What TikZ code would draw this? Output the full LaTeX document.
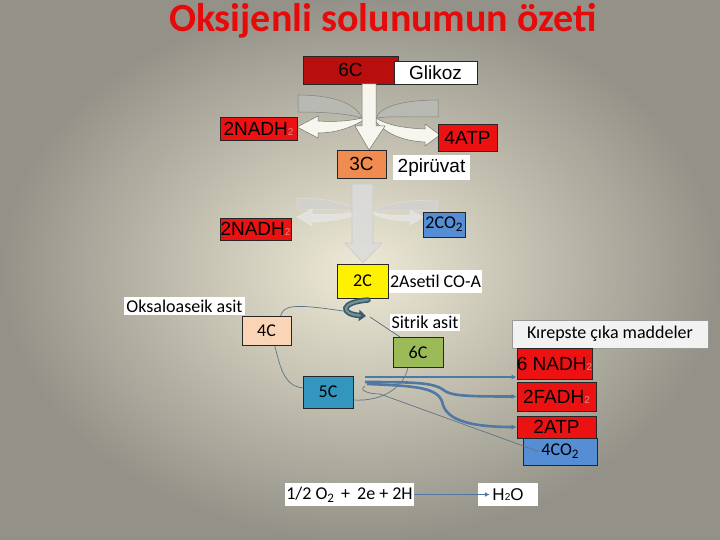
\documentclass[tikz,border=0pt]{standalone}
\usepackage{fontspec}
\setmainfont{Carlito}
\newfontfamily\arialf{Liberation Sans}
\usetikzlibrary{arrows.meta}
\definecolor{bgin}{RGB}{238,234,214}
\definecolor{bgout}{RGB}{148,146,136}
\definecolor{darkred}{RGB}{185,14,14}
\definecolor{brightred}{RGB}{236,18,18}
\definecolor{orange3}{RGB}{240,140,80}
\definecolor{blue2}{RGB}{85,142,213}
\definecolor{peach}{RGB}{250,212,182}
\definecolor{green6}{RGB}{155,187,89}
\definecolor{teal5}{RGB}{50,150,190}
\definecolor{lineblue}{RGB}{79,120,165}
\definecolor{thinline}{RGB}{95,115,135}
\definecolor{subred}{RGB}{222,140,140}
\definecolor{bandgray}{RGB}{185,185,180}
\definecolor{arrowwhite}{RGB}{246,246,238}
\definecolor{swirlout}{RGB}{60,88,112}
\definecolor{swirlin}{RGB}{110,150,140}
\definecolor{titlered}{RGB}{230,10,10}
\newcommand{\subtwo}{{\fontsize{10}{10}\selectfont\color{subred}2}}
\newcommand{\cotwo}{CO\raisebox{-3pt}{\fontsize{13}{13}\selectfont 2}}
\begin{document}
\begin{tikzpicture}[x=1pt,y=-1pt,
  box/.style={draw=black!85, line width=0.7pt, inner sep=0pt, align=center},
  afont/.style={font=\arialf\fontsize{19}{19}\selectfont},
  cfont/.style={font=\fontsize{18}{18}\selectfont},
  wlabel/.style={fill=white, inner sep=0pt},
  thick blue/.style={draw=lineblue, line width=2.6pt, -{Latex[length=5pt,width=5pt]}},
  thin conn/.style={draw=thinline, line width=0.7pt},
  band/.style={fill=bandgray, draw=black!50, line width=0.5pt},
  fat/.style={fill=arrowwhite, draw=black!55, line width=0.5pt},
  fband/.style={fill=black!18, draw=black!10, line width=0.5pt, opacity=0.7},
  ffat/.style={fill=black!10, draw=black!8, line width=0.5pt, opacity=0.8}]
\shade[inner color=bgin, outer color=bgout] (0,0) rectangle (720,540);
\useasboundingbox (0,0) rectangle (720,540);

% title
\node[font=\bfseries\fontsize{40}{40}\selectfont, text=titlered] (title) at (383,21) {Oksijenli solunumun özeti};

% first stage boxes
\node[box, fill=darkred, afont, minimum width=95pt, minimum height=28pt] (c6top) at (350.5,70) {6C};
\node[box, fill=white, afont, minimum width=83pt, minimum height=23pt] (glikoz) at (435.5,72.5) {Glikoz};

% curved arrows stage 1
\path[band] (298,95) .. controls (330,95) and (355,102) .. (362,118) .. controls (345,113) and (320,112) .. (298,112) -- cycle;
\path[band] (438,100) .. controls (405,100) and (380,106) .. (376,118) .. controls (390,116) and (415,117) .. (438,117) -- cycle;
\path[fat] (362,118) .. controls (350,121) and (335,122) .. (318,121) -- (318,116) -- (297,127) -- (318,138) -- (318,133) .. controls (335,133) and (350,128) .. (362,121) -- cycle;
\path[fat] (376,118) .. controls (385,124) and (400,128) .. (425,129) -- (425,124) -- (440,135) -- (425,146) -- (425,142) .. controls (400,141) and (385,132) .. (376,122) -- cycle;
% main vertical arrow
\path[fat] (362,84) -- (362,126) -- (355,126) -- (369,150) -- (385,126) -- (376,126) -- (376,84) -- cycle;

\node[box, fill=brightred, afont, minimum width=77pt, minimum height=23pt] (nadhA) at (258.5,128.5) {2NADH\subtwo};
\node[box, fill=brightred, afont, minimum width=59pt, minimum height=27pt] (atp4) at (467.5,137.5) {4ATP};
\node[box, fill=orange3, afont, minimum width=49pt, minimum height=28pt] (c3) at (361.5,164) {3C};
\node[wlabel, afont, minimum width=77pt, minimum height=25pt] (piruvat) at (431.5,167.5) {2pirüvat};

% faint stage 2 arrows
\path[fband] (297,198) .. controls (330,198) and (352,205) .. (358,212) .. controls (340,209) and (320,209) .. (297,210) -- cycle;
\path[fband] (437,200) .. controls (405,200) and (378,205) .. (372,212) .. controls (390,209) and (415,210) .. (437,211) -- cycle;
\path[ffat] (358,212) .. controls (345,214) and (330,215) .. (312,214) -- (312,209) -- (297,217) -- (312,226) -- (312,222) .. controls (330,222) and (348,218) .. (358,214) -- cycle;
\path[ffat] (372,212) .. controls (385,215) and (395,216) .. (410,215) -- (410,210) -- (423,217) -- (410,225) -- (410,221) .. controls (395,221) and (382,218) .. (372,214) -- cycle;
\path[fill=black!14, draw=black!22, line width=0.6pt, opacity=0.85] (352,184) -- (352,243) -- (345,243) -- (363,263) -- (382,243) -- (373,243) -- (373,184) -- cycle;

\node[box, fill=brightred, afont, minimum width=71pt, minimum height=22pt] (nadhB) at (255.5,229) {2NADH\subtwo};
\node[box, fill=blue2, cfont, minimum width=42pt, minimum height=25pt] (co2a) at (444,224.5) {2\cotwo};
\node[box, fill=yellow, cfont, minimum width=51pt, minimum height=34pt] (c2) at (362.5,281) {2C};
\node[wlabel, cfont, minimum width=93pt, minimum height=23pt] (asetil) at (435.5,281.5) {2Asetil CO-A};

% Krebs cycle
\node[wlabel, cfont, minimum width=121pt, minimum height=18pt] (oksalo) at (184.5,306) {Oksaloaseik asit};
\node[wlabel, cfont, minimum width=70pt, minimum height=17pt] (sitrik) at (425,322.5) {Sitrik asit};

\coordinate (sw1) at (343,311);
\coordinate (sw2) at (370,317);
\draw[thin conn] (280.5,316) .. controls (284,306) and (290,303) .. (sw1);
\draw[thin conn] (sw2) -- (400,337);
\draw[thin conn] (274.5,345) .. controls (280,365) and (283,386) .. (303,388);
\draw[thin conn] (353,400) .. controls (385,402) and (405,385) .. (408,367);

\node[box, fill=peach, cfont, minimum width=49pt, minimum height=29pt] (c4) at (266.5,330.5) {4C};
\node[box, fill=green6, cfont, minimum width=50pt, minimum height=30pt] (c6g) at (418,352) {6C};
\node[box, fill=teal5, cfont, minimum width=50pt, minimum height=32pt] (c5) at (328,392) {5C};

% swirl
\draw[swirlout, line width=5.5pt, line cap=round, -{Triangle[length=7pt,width=11pt]}] (368,300) .. controls (340,302) and (340,314) .. (366,316);
\draw[swirlin, line width=2.2pt, line cap=round, shorten >=6pt] (368,300) .. controls (340,302) and (340,314) .. (366,316);

% products
\node[box, draw=black!40, fill=black!5, cfont, minimum width=196pt, minimum height=28pt] (krebs) at (610,334) {Kırepste çıka maddeler};
\node[box, fill=brightred, afont, minimum width=75pt, minimum height=31pt] (nadh6) at (554.5,363.5) {6 NADH\subtwo};
\node[box, fill=brightred, afont, minimum width=79pt, minimum height=29pt] (fadh) at (556.5,396.5) {2FADH\subtwo};
\node[box, fill=brightred, afont, minimum width=79pt, minimum height=22pt] (atp2) at (556.5,427) {2ATP};
\node[box, fill=blue2, cfont, minimum width=74pt, minimum height=27pt] (co2b) at (560,451.5) {4\cotwo};

\coordinate (s1) at (365,377);
\coordinate (s2) at (365,382);
\coordinate (s3) at (367,384);
\coordinate (s4) at (365,386);
\draw[thick blue] (s1) -- (nadh6.west |- s1);
\draw[thick blue] (s2) .. controls (420,382) and (435,383) .. (445,391) .. controls (452,396) and (470,396.5) .. (fadh.west);
\draw[thick blue] (s3) .. controls (420,386) and (440,388) .. (443,405) .. controls (448,420) and (470,427) .. (atp2.west);
\draw[thin conn] (s4) .. controls (358,390) and (368,394) .. (380,394) -- ([xshift=16pt]co2b.west);

% oxygen
\node[wlabel, cfont, minimum width=129pt, minimum height=23pt] (o2) at (349.5,494.5) {1/2 O\raisebox{-3pt}{\fontsize{13}{13}\selectfont 2} \,+ \,2e + 2H};
\node[wlabel, font=\arialf\fontsize{17}{17}\selectfont, minimum width=60pt, minimum height=23pt] (h2o) at (508,494.5) {H{\fontsize{10}{10}\selectfont 2}O};
\draw[draw=lineblue, line width=1.6pt, -{Latex[length=5pt,width=5pt]}] (o2.east) -- ([xshift=12pt]h2o.west);
\end{tikzpicture}
\end{document}
